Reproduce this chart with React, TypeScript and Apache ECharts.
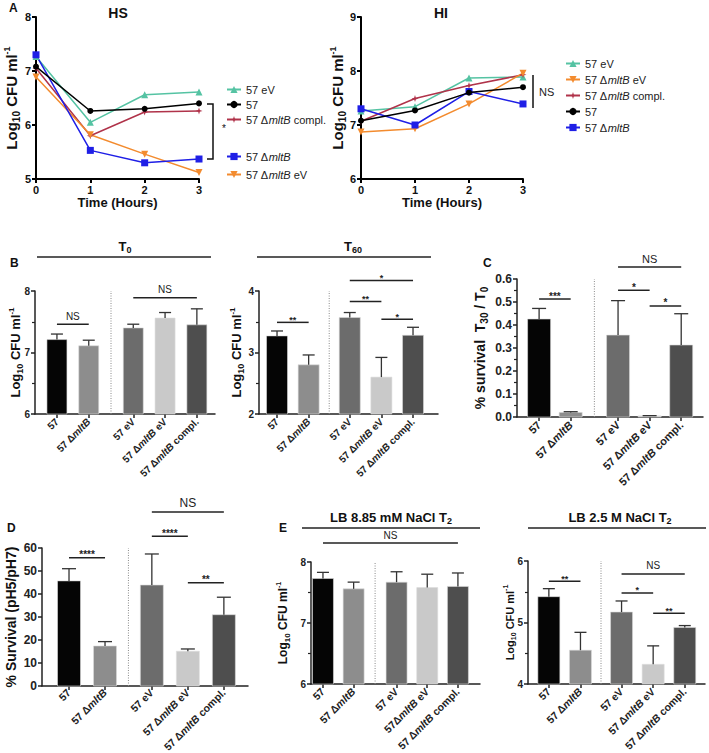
import React, { useEffect, useRef } from 'react';
import * as echarts from 'echarts';

const FONT = '"Liberation Sans", Arial, Helvetica, sans-serif';

// ---------- Panel A : growth curves ----------
const hours = [0, 1, 2, 3];
const hsEV = [7.27, 6.05, 6.56, 6.61];
const hs57 = [7.08, 6.26, 6.3, 6.4];
const hsCompl = [7.05, 5.8, 6.24, 6.26];
const hsMltB = [7.3, 5.53, 5.3, 5.37];
const hsMltBeV = [6.89, 5.82, 5.46, 5.12];
const hiEV = [7.26, 7.34, 7.87, 7.89];
const hi57 = [7.08, 7.27, 7.6, 7.7];
const hiCompl = [7.07, 7.49, 7.73, 7.93];
const hiMltB = [7.3, 7.0, 7.62, 7.39];
const hiMltBeV = [6.87, 6.93, 7.39, 7.96];

const hsLegendTop = ['57 eV', '57', '57 ΔmltB compl.'];
const hsLegendBottom = ['57 ΔmltB', '57 ΔmltB eV'];
const hiLegend = ['57 eV', '57 ΔmltB eV', '57 ΔmltB compl.', '57', '57 ΔmltB'];

// ---------- Bar panels ----------
const strainNames = ['57', '57 ΔmltB', '57 eV', '57 ΔmltB eV', '57 ΔmltB compl.'];
const strainNamesE1 = ['57', '57 ΔmltB', '57 eV', '57ΔmltB eV', '57 ΔmltB compl.'];

const t0Mean = [7.21, 7.11, 7.4, 7.56, 7.45];
const t0Sd = [0.09, 0.09, 0.06, 0.09, 0.26];
const t60Mean = [3.27, 2.8, 3.57, 2.6, 3.28];
const t60Sd = [0.08, 0.16, 0.08, 0.32, 0.13];
const cMean = [0.426, 0.02, 0.356, 0.005, 0.313];
const cSd = [0.046, 0.003, 0.15, 0.001, 0.136];
const dMean = [45.7, 17.4, 43.9, 15.1, 31.0];
const dSd = [5.3, 1.9, 13.5, 1.0, 7.6];
const e1Mean = [7.73, 7.56, 7.67, 7.58, 7.6];
const e1Sd = [0.1, 0.11, 0.17, 0.22, 0.22];
const e2Mean = [5.42, 4.55, 5.17, 4.32, 4.92];
const e2Sd = [0.13, 0.29, 0.18, 0.3, 0.03];

// significance: [group a, group b, level, label]
const t0Sig: any[] = [[0, 1, 7.46, 'NS'], [2, 4, 7.89, 'NS']];
const t60Sig: any[] = [[0, 1, 3.49, '**'], [2, 3, 3.83, '**'], [3, 4, 3.54, '*'], [2, 4, 4.17, '*']];
const cSig: any[] = [[0, 1, 0.513, '***'], [2, 3, 0.551, '*'], [3, 4, 0.483, '*'], [2, 4, 0.652, 'NS']];
const dSig: any[] = [[0, 1, 55.8, '****'], [2, 3, 65.1, '****'], [3, 4, 44.9, '**'], [2, 4, 75.7, 'NS']];
const e1Sig: any[] = [[0, 4, 8.31, 'NS']];
const e2Sig: any[] = [[0, 1, 5.67, '**'], [2, 3, 5.48, '*'], [3, 4, 5.15, '**'], [2, 4, 5.79, 'NS']];

const barColors = ['#050505', '#8d8d8d', '#6c6c6c', '#c9c9c9', '#4e4e4e'];

const richName = (n: string) => {
  const k = n.indexOf('mltB');
  if (k < 0) return `{n|${n}}`;
  const a = n.slice(0, k);
  const b = n.slice(k + 4);
  return `{n|${a}}{i|mltB}` + (b ? `{n|${b}}` : '');
};

const logName = '{b|Log}{s|10}{b| CFU ml}{p|-1}';
const nameRich = (size: number) => ({
  b: { fontFamily: FONT, fontWeight: 'bold', fontSize: size, color: '#111', lineHeight: size + 4, verticalAlign: 'middle' },
  s: { fontFamily: FONT, fontWeight: 'bold', fontSize: Math.round(size * 0.68), color: '#111', lineHeight: Math.round(size * 0.68), verticalAlign: 'bottom' },
  p: { fontFamily: FONT, fontWeight: 'bold', fontSize: Math.round(size * 0.62), color: '#111', lineHeight: Math.round(size * 0.62), verticalAlign: 'top' },
});

const lineColors: Record<string, string> = {
  '57 eV': '#55c3a3',
  '57': '#000000',
  '57 ΔmltB compl.': '#b0334a',
  '57 ΔmltB': '#1f1fe6',
  '57 ΔmltB eV': '#f38b2e',
};
const starPath = 'path://M5,0 L6.2,3.8 L10,5 L6.2,6.2 L5,10 L3.8,6.2 L0,5 L3.8,3.8 Z';
const lineSymbols: Record<string, any> = {
  '57 eV': { symbol: 'triangle', symbolSize: 7 },
  '57': { symbol: 'circle', symbolSize: 6 },
  '57 ΔmltB compl.': { symbol: starPath, symbolSize: 7 },
  '57 ΔmltB': { symbol: 'rect', symbolSize: 7 },
  '57 ΔmltB eV': { symbol: 'triangle', symbolSize: 7, symbolRotate: 180 },
};

const barPanels: any[] = [
  { names: strainNames, mean: t0Mean, sd: t0Sd, sig: t0Sig, grid: { left: 35, top: 291, width: 180, height: 123 },
    pos: [0, 1, 2.4, 3.4, 4.4], sep: 1.7, xMin: -0.69, xMax: 4.97, yMin: 6, yMax: 8, yInt: 1, minor: 2,
    barW: 20, capW: 12, fs: 10, lm: 6, yfs: 10, yName: logName, yNameSize: 13, yNameGap: 11, nsSize: 10, starSize: 9 },
  { names: strainNames, mean: t60Mean, sd: t60Sd, sig: t60Sig, grid: { left: 259, top: 291, width: 179, height: 123 },
    pos: [0, 1, 2.3, 3.3, 4.3], sep: 1.65, xMin: -0.57, xMax: 5.09, yMin: 2, yMax: 4, yInt: 1, minor: 2,
    barW: 21, capW: 12, fs: 10, lm: 6, yfs: 10, yName: logName, yNameSize: 13, yNameGap: 14, nsSize: 10, starSize: 9 },
  { names: strainNames, mean: cMean, sd: cSd, sig: cSig, grid: { left: 517, top: 279, width: 186, height: 138 },
    pos: [0, 1, 2.5, 3.5, 4.5], sep: 1.75, xMin: -0.7, xMax: 5.19, yMin: 0, yMax: 0.6, yInt: 0.1, minor: 2,
    barW: 23, capW: 14, fs: 11, lm: 6, yfs: 12, yName: '{b|% survival  T}{s|30}{b| / T}{s|0}', yNameSize: 14, yNameGap: 28,
    nsSize: 11, starSize: 10, fmt: (v: number) => v.toFixed(1) },
  { names: strainNames, mean: dMean, sd: dSd, sig: dSig, grid: { left: 42, top: 548, width: 206, height: 138 },
    pos: [0, 1, 2.3, 3.3, 4.3], sep: 1.65, xMin: -0.75, xMax: 4.97, yMin: 0, yMax: 60, yInt: 10, minor: 0,
    barW: 23, capW: 14, fs: 10.5, lm: 5, yfs: 12, yName: '{b|% Survival (pH5/pH7)}', yNameSize: 14, yNameGap: 22, nsSize: 12, starSize: 10 },
  { names: strainNamesE1, mean: e1Mean, sd: e1Sd, sig: e1Sig, grid: { left: 311, top: 562, width: 169, height: 122 },
    pos: [0, 1, 2.4, 3.4, 4.4], sep: 1.7, xMin: -0.39, xMax: 5.12, yMin: 6, yMax: 8, yInt: 1, minor: 2,
    barW: 21, capW: 12, fs: 10.5, lm: 6, yfs: 10, yName: logName, yNameSize: 12, yNameGap: 20, nsSize: 10, starSize: 9 },
  { names: strainNames, mean: e2Mean, sd: e2Sd, sig: e2Sig, grid: { left: 528, top: 561, width: 177, height: 123 },
    pos: [0, 1, 2.3, 3.3, 4.3], sep: 1.65, xMin: -0.66, xMax: 4.94, yMin: 4, yMax: 6, yInt: 1, minor: 2,
    barW: 22, capW: 12, fs: 10.5, lm: 6, yfs: 10, yName: logName, yNameSize: 11, yNameGap: 11, nsSize: 10, starSize: 9 },
];

function buildOption() {
  const grids: any[] = [
    { left: 36, top: 17, width: 163, height: 162 },
    { left: 361, top: 17, width: 162, height: 162 },
    ...barPanels.map((p) => p.grid),
  ].map((g) => ({ ...g, containLabel: false, outerBoundsMode: 'none', show: false }));

  const xAxes: any[] = [];
  const yAxes: any[] = [];
  const series: any[] = [];

  const lineAxisX = (gi: number) => ({
    type: 'value', gridIndex: gi, min: 0, max: 3, interval: 1,
    axisLine: { show: true, onZero: false, lineStyle: { color: '#000', width: 2 } },
    axisTick: { show: true, length: 4, lineStyle: { color: '#000', width: 2 } },
    axisLabel: { fontFamily: FONT, fontWeight: 'bold', fontSize: 11, color: '#111', margin: 5 },
    splitLine: { show: false },
    name: 'Time (Hours)', nameLocation: 'middle', nameGap: 17, nameMoveOverlap: false,
    nameTextStyle: { fontFamily: FONT, fontWeight: 'bold', fontSize: 13, color: '#111' },
  });
  const lineAxisY = (gi: number, min: number, gap: number) => ({
    type: 'value', gridIndex: gi, min, max: min + 3, interval: 1,
    axisLine: { show: true, onZero: false, lineStyle: { color: '#000', width: 2 } },
    axisTick: { show: true, length: 4, lineStyle: { color: '#000', width: 2 } },
    axisLabel: { fontFamily: FONT, fontWeight: 'bold', fontSize: 11, color: '#111', margin: 5 },
    splitLine: { show: false },
    name: logName, nameLocation: 'middle', nameGap: gap, nameRotate: 90, nameMoveOverlap: false,
    nameTextStyle: { rich: nameRich(15) },
  });
  xAxes.push(lineAxisX(0), lineAxisX(1));
  yAxes.push(lineAxisY(0, 5, 15), lineAxisY(1, 6, 14));

  const addLine = (gi: number, name: string, vals: number[]) => {
    series.push({
      type: 'line', name, xAxisIndex: gi, yAxisIndex: gi,
      data: hours.map((h, i) => [h, vals[i]]),
      ...lineSymbols[name],
      lineStyle: { color: lineColors[name], width: 1.5 },
      itemStyle: { color: lineColors[name] },
      showSymbol: true, silent: true, z: name === '57' ? 3 : 2,
    });
  };
  addLine(0, '57 eV', hsEV);
  addLine(0, '57 ΔmltB compl.', hsCompl);
  addLine(0, '57 ΔmltB eV', hsMltBeV);
  addLine(0, '57 ΔmltB', hsMltB);
  addLine(0, '57', hs57);
  addLine(1, '57 eV', hiEV);
  addLine(1, '57 ΔmltB compl.', hiCompl);
  addLine(1, '57 ΔmltB eV', hiMltBeV);
  addLine(1, '57 ΔmltB', hiMltB);
  addLine(1, '57', hi57);

  barPanels.forEach((p, k) => {
    const gi = k + 2;
    const nameLabel = (v: number) => {
      let idx = 0;
      let best = 1e9;
      p.pos.forEach((q: number, j: number) => {
        if (Math.abs(q - v) < best) { best = Math.abs(q - v); idx = j; }
      });
      return richName(p.names[idx]);
    };
    xAxes.push({
      type: 'value', gridIndex: gi, min: p.xMin, max: p.xMax,
      axisLine: { show: true, onZero: false, lineStyle: { color: '#222', width: 1.5 } },
      axisTick: { show: true, length: 4, customValues: p.pos, lineStyle: { color: '#222', width: 1.5 } },
      axisLabel: {
        customValues: p.pos, rotate: 45, margin: p.lm, formatter: nameLabel,
        rich: {
          n: { fontFamily: FONT, fontWeight: 'bold', fontSize: p.fs, color: '#222' },
          i: { fontFamily: FONT, fontWeight: 'bold', fontStyle: 'italic', fontSize: p.fs, color: '#222' },
        },
      },
      splitLine: { show: false },
    });
    yAxes.push({
      type: 'value', gridIndex: gi, min: p.yMin, max: p.yMax, interval: p.yInt,
      axisLine: { show: true, onZero: false, lineStyle: { color: '#222', width: 1.5 } },
      axisTick: { show: true, length: 4, lineStyle: { color: '#222', width: 1.5 } },
      minorTick: { show: p.minor > 0, splitNumber: p.minor || 2, length: 3, lineStyle: { color: '#222', width: 1.2 } },
      minorSplitLine: { show: false },
      splitLine: { show: false },
      axisLabel: { fontFamily: FONT, fontWeight: 'bold', fontSize: p.yfs, color: '#222', margin: 5, formatter: p.fmt },
      name: p.yName, nameLocation: 'middle', nameGap: p.yNameGap, nameRotate: 90, nameMoveOverlap: false,
      nameTextStyle: { rich: nameRich(p.yNameSize) },
    });

    series.push({
      type: 'line', xAxisIndex: gi, yAxisIndex: gi, silent: true, symbol: 'none',
      data: [[p.sep, p.yMin], [p.sep, p.yMax]],
      lineStyle: { color: '#8a8a8a', width: 1, type: [1, 1.5] }, z: 1,
    });

    series.push({
      type: 'custom', xAxisIndex: gi, yAxisIndex: gi, silent: true, clip: false,
      data: p.pos.map((x: number, i: number) => [x, p.mean[i], p.sd[i]]),
      encode: { x: 0, y: 1 },
      renderItem: (params: any, api: any) => {
        const i = params.dataIndex;
        const x = api.value(0);
        const y = api.value(1);
        const sd = api.value(2);
        const b = api.coord([x, p.yMin]);
        const t = api.coord([x, y]);
        const e = api.coord([x, y + sd]);
        const w = p.barW;
        const cw = p.capW;
        return {
          type: 'group',
          children: [
            { type: 'rect', shape: { x: t[0] - w / 2, y: t[1], width: w, height: Math.max(0.8, b[1] - t[1]) },
              style: { fill: barColors[i], stroke: '#dcdcdc', lineWidth: 0.6 } },
            { type: 'line', shape: { x1: t[0], y1: t[1], x2: e[0], y2: e[1] }, style: { stroke: '#333', lineWidth: 1.3 } },
            { type: 'line', shape: { x1: e[0] - cw / 2, y1: e[1], x2: e[0] + cw / 2, y2: e[1] }, style: { stroke: '#333', lineWidth: 1.3 } },
          ],
        };
      },
      z: 2,
    });

    series.push({
      type: 'custom', xAxisIndex: gi, yAxisIndex: gi, silent: true, clip: false,
      data: p.sig.map((s: any[]) => [p.pos[s[0]], s[2]]),
      encode: { x: 0, y: 1 },
      renderItem: (params: any, api: any) => {
        const s = p.sig[params.dataIndex];
        const p1 = api.coord([p.pos[s[0]], s[2]]);
        const p2 = api.coord([p.pos[s[1]], s[2]]);
        const ns = s[3] === 'NS';
        return {
          type: 'group',
          children: [
            { type: 'line', shape: { x1: p1[0], y1: p1[1], x2: p2[0], y2: p2[1] }, style: { stroke: '#222', lineWidth: 1.5 } },
            { type: 'text', x: (p1[0] + p2[0]) / 2, y: p1[1] - (ns ? 3 : -2),
              style: { text: s[3], align: 'center', verticalAlign: 'bottom', fontFamily: FONT,
                fontSize: ns ? p.nsSize : p.starSize, fontWeight: ns ? 'normal' : 'bold', fill: '#222' } },
          ],
        };
      },
      z: 3,
    });
  });

  const legendRich = {
    n: { fontFamily: FONT, fontSize: 11, color: '#222' },
    i: { fontFamily: FONT, fontSize: 11, color: '#222', fontStyle: 'italic' },
  };
  const legendBase = {
    orient: 'vertical', itemWidth: 14, itemHeight: 9, padding: 0, selectedMode: false,
    formatter: (n: string) => richName(n), textStyle: { fontFamily: FONT, fontSize: 11, color: '#222', rich: legendRich },
  };

  const txt = (x: number, y: number, text: string, size: number, extra: any = {}) => ({
    type: 'text', x, y, silent: true,
    style: { text, fontFamily: FONT, fontSize: size, fontWeight: 'bold', fill: '#111', ...extra },
  });
  const hline = (x1: number, x2: number, y: number) => ({
    type: 'line', silent: true, shape: { x1, y1: y, x2, y2: y }, style: { stroke: '#222', lineWidth: 1.5 },
  });
  const subRich = {
    s: { fontFamily: FONT, fontSize: 9, fontWeight: 'bold', fill: '#111', verticalAlign: 'bottom', lineHeight: 9 },
  };

  const graphic: any[] = [
    txt(9, 2, 'A', 12),
    txt(10, 257, 'B', 12),
    txt(483, 257, 'C', 12),
    txt(7, 522, 'D', 12),
    txt(279, 522, 'E', 12),
    txt(118, 13, 'HS', 14, { align: 'center', verticalAlign: 'middle' }),
    txt(441, 13, 'HI', 14, { align: 'center', verticalAlign: 'middle' }),
    txt(125, 246, 'T{s|0}', 13, { align: 'center', verticalAlign: 'middle', lineHeight: 17, rich: subRich }),
    txt(353, 246, 'T{s|60}', 13, { align: 'center', verticalAlign: 'middle', lineHeight: 17, rich: subRich }),
    txt(391, 517, 'LB 8.85 mM NaCl T{s|2}', 13, { align: 'center', verticalAlign: 'middle', lineHeight: 17, rich: subRich }),
    txt(620, 517, 'LB 2.5 M NaCl T{s|2}', 13, { align: 'center', verticalAlign: 'middle', lineHeight: 17, rich: subRich }),
    hline(37, 211, 257),
    hline(257, 431, 257),
    hline(302, 480, 528),
    hline(528, 706, 528),
    { type: 'polyline', silent: true, shape: { points: [[207, 104], [213, 104], [213, 159], [207, 159]] },
      style: { stroke: '#111', lineWidth: 1.5, fill: 'none' } },
    txt(224, 128, '*', 10, { align: 'center', verticalAlign: 'middle', fontWeight: 'normal' }),
    { type: 'line', silent: true, shape: { x1: 533, y1: 75, x2: 533, y2: 108 }, style: { stroke: '#111', lineWidth: 1.5 } },
    txt(539, 92, 'NS', 11, { verticalAlign: 'middle', fontWeight: 'normal', fill: '#222' }),
  ];

  return {
    animation: false,
    backgroundColor: '#ffffff',
    textStyle: { fontFamily: FONT },
    grid: grids,
    xAxis: xAxes,
    yAxis: yAxes,
    legend: [
      { ...legendBase, data: hsLegendTop, left: 226, top: 84, itemGap: 4 },
      { ...legendBase, data: hsLegendBottom, left: 226, top: 151, itemGap: 7 },
      { ...legendBase, data: hiLegend, left: 565, top: 58, itemGap: 5 },
    ],
    tooltip: { show: false },
    series,
    graphic,
  };
}

export default function App() {
  const ref = useRef<HTMLDivElement>(null);
  useEffect(() => {
    if (!ref.current) return;
    const chart = echarts.init(ref.current, null, { renderer: 'svg' });
    chart.setOption(buildOption() as any);
    return () => chart.dispose();
  }, []);
  return (
    <div
      ref={ref}
      style={{ position: 'absolute', left: 0, top: 0, width: 709, height: 753, background: '#fff' }}
    />
  );
}
